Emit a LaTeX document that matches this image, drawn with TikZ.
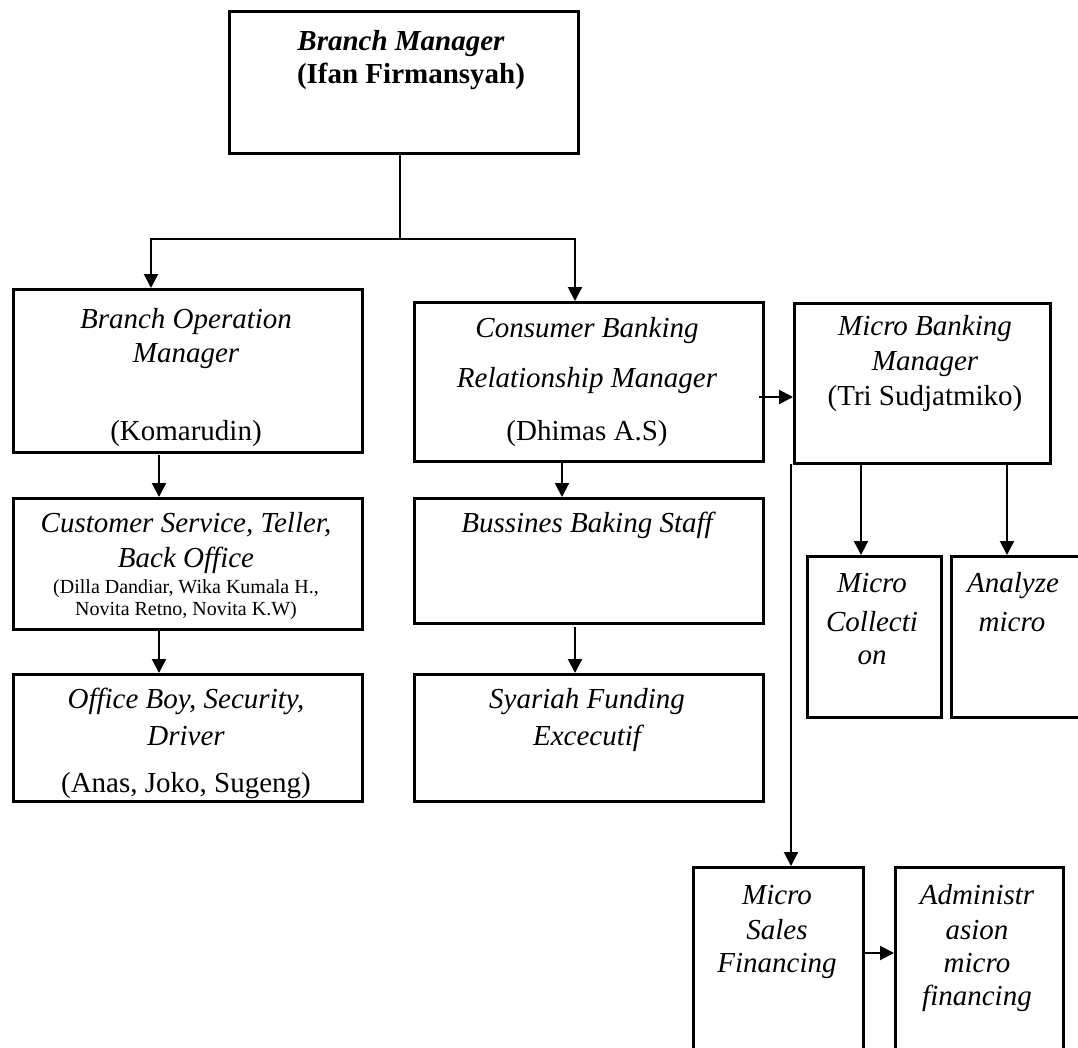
\documentclass[tikz,border=0pt]{standalone}
\usepackage{fontspec}
\setmainfont{Liberation Serif}
\usetikzlibrary{arrows.meta}
\tikzset{
  box/.style={draw, line width=3pt, rectangle, inner sep=0pt, anchor=north west},
  conn/.style={line width=2pt, -{Triangle[width=14pt,length=14pt]}},
  plainline/.style={line width=2pt},
  lni/.style={anchor=base, inner sep=0pt, font=\fontsize{29}{34}\selectfont\itshape},
  lnr/.style={anchor=base, inner sep=0pt, font=\fontsize{29}{34}\selectfont},
  lns/.style={anchor=base, inner sep=0pt, font=\fontsize{20}{24}\selectfont},
  lnb/.style={anchor=base, inner sep=0pt, font=\fontsize{29}{34}\selectfont\bfseries},
}
\begin{document}
\begin{tikzpicture}[x=1pt,y=-1pt]
\fill[white] (0,0) rectangle (1078,1047);
\clip (0,0) rectangle (1078,1047);
% boxes
\node[box, minimum width=349pt, minimum height=142pt] (bm) at (228,10) {};
\node[box, minimum width=349pt, minimum height=163pt] (bom) at (12,288) {};
\node[box, minimum width=349pt, minimum height=131pt] (cs) at (12,497) {};
\node[box, minimum width=349pt, minimum height=127pt] (ob) at (12,673) {};
\node[box, minimum width=349pt, minimum height=159pt] (cb) at (413,301) {};
\node[box, minimum width=349pt, minimum height=125pt] (bbs) at (413,497) {};
\node[box, minimum width=349pt, minimum height=127pt] (sfe) at (413,673) {};
\node[box, minimum width=256pt, minimum height=160pt] (mbm) at (793,302) {};
\node[box, minimum width=134pt, minimum height=161pt] (mc) at (806,555) {};
\node[box, minimum width=130pt, minimum height=161pt] (am) at (950,555) {};
\node[box, minimum width=170pt, minimum height=200pt] (msf) at (692,866) {};
\node[box, minimum width=168pt, minimum height=200pt] (ad) at (894,866) {};
% texts
\node[lnb] (bm1) at (401,50) {\itshape Branch Manager};
\node[lnb] (bm2) at (411,83) {(Ifan Firmansyah)};
\node[lni] (bom1) at (186,328) {Branch Operation};
\node[lni] (bom2) at (186,362) {Manager};
\node[lnr] (bom3) at (186,440) {(Komarudin)};
\node[lni] (cs1) at (186,532) {Customer Service, Teller,};
\node[lni] (cs2) at (186,567) {Back Office};
\node[lns] (cs3) at (186,593) {(Dilla Dandiar, Wika Kumala H.,};
\node[lns] (cs4) at (186,615) {Novita Retno, Novita K.W)};
\node[lni] (ob1) at (186,708) {Office Boy, Security,};
\node[lni] (ob2) at (186,745) {Driver};
\node[lnr] (ob3) at (186,792) {(Anas, Joko, Sugeng)};
\node[lni] (cb1) at (587,337) {Consumer Banking};
\node[lni] (cb2) at (587,387) {Relationship Manager};
\node[lnr] (cb3) at (587,440) {(Dhimas A.S)};
\node[lni] (mbm1) at (925,335) {Micro Banking};
\node[lni] (mbm2) at (925,370) {Manager};
\node[lnr] (mbm3) at (925,405) {(Tri Sudjatmiko)};
\node[lni] (bbs1) at (587,532) {Bussines Baking Staff};
\node[lni] (sfe1) at (587,708) {Syariah Funding};
\node[lni] (sfe2) at (587,745) {Excecutif};
\node[lni] (mc1) at (872,592) {Micro};
\node[lni] (mc2) at (872,631) {Collecti};
\node[lni] (mc3) at (872,664) {on};
\node[lni] (am1) at (1013,592) {Analyze};
\node[lni] (am2) at (1012,631) {micro};
\node[lni] (msf1) at (777,904) {Micro};
\node[lni] (msf2) at (777,939) {Sales};
\node[lni] (msf3) at (777,972) {Financing};
\node[lni] (ad1) at (977,904) {Administr};
\node[lni] (ad2) at (977,939) {asion};
\node[lni] (ad3) at (977,972) {micro};
\node[lni] (ad4) at (977,1005) {financing};
% connector coordinates
\coordinate (j1) at (400,239);
\coordinate (bomin) at (151,288);
\coordinate (cbin) at (575,301);
\coordinate (bomout) at (159,455);
\coordinate (csin) at (159,497);
\coordinate (csout) at (159,628);
\coordinate (obin) at (159,673);
\coordinate (cbout) at (562,460);
\coordinate (bbsin) at (562,497);
\coordinate (bbsout) at (575,627);
\coordinate (sfein) at (575,673);
\coordinate (cbr) at (759,397);
\coordinate (mbml) at (793,397);
\coordinate (mv) at (791,464);
\coordinate (msfin) at (791,866);
\coordinate (mcout) at (861,465);
\coordinate (mcin) at (861,555);
\coordinate (amout) at (1007,465);
\coordinate (amin) at (1007,555);
\coordinate (msfr) at (862,953);
\coordinate (adl) at (894,953);
% connectors
\draw[plainline] (bm.south -| j1) -- (j1);
\draw[conn] (j1) -| (bomin);
\draw[conn] (j1) -| (cbin);
\draw[conn] (bomout) -- (csin);
\draw[conn] (csout) -- (obin);
\draw[conn] (cbout) -- (bbsin);
\draw[conn] (bbsout) -- (sfein);
\draw[conn] (cbr) -- (mbml);
\draw[conn] (mv) -- (msfin);
\draw[conn] (mcout) -- (mcin);
\draw[conn] (amout) -- (amin);
\draw[conn] (msfr) -- (adl);
\end{tikzpicture}
\end{document}
